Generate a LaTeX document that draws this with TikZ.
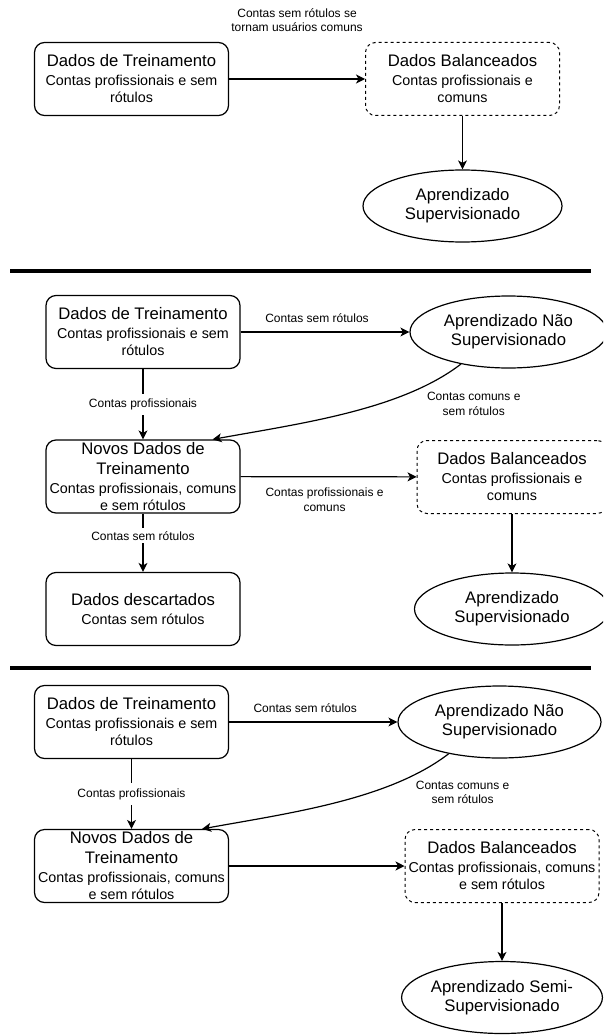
\documentclass[tikz,border=0pt]{standalone}
\usepackage{fontspec}
\setmainfont{Liberation Sans}
\usetikzlibrary{shapes.geometric,arrows.meta}
\newcommand\titl[1]{\fontsize{16.7}{20}\selectfont #1}
\begin{document}
\begin{tikzpicture}[x=1pt,y=-1pt,
  box/.style={draw, rounded corners=10pt, line width=1.2pt, minimum width=194pt, minimum height=73pt,
    inner sep=0pt, align=center, font=\fontsize{14.3}{17}\selectfont},
  dbox/.style={box, line width=1pt, dash pattern=on 3pt off 3pt},
  ell/.style={draw, ellipse, line width=1.2pt, inner sep=0pt, align=center,
    minimum width=198pt, minimum height=72pt, font=\fontsize{16.7}{19}\selectfont},
  elbl/.style={font=\fontsize{12}{14.5}\selectfont, align=center, inner sep=1pt},
  vlbl/.style={elbl, fill=white, inner xsep=2pt, inner ysep=#1},
  vlbl/.default=3pt,
  conn/.style={line width=1.2pt, -{Stealth[length=9pt,width=9pt,inset=2.5pt]}},
  sepline/.style={line width=4pt}
]
\clip (0,0) rectangle (603,1035);
\fill[white] (0,0) rectangle (603,1035);

% ---------- section 1 ----------
\node[box] (a1) at (131.5,79) {\titl{Dados de Treinamento}\\[2pt] Contas profissionais e sem\\ rótulos};
\node[dbox] (d1) at (462.5,79) {\titl{Dados Balanceados}\\[2pt] Contas profissionais e\\ comuns};
\node[ell, minimum width=199pt] (s1) at (462.5,206) {Aprendizado\\ Supervisionado};
\draw[conn] (a1) -- (d1) node[elbl, midway, yshift=59pt] {Contas sem rótulos se\\ tornam usuários comuns};
\draw[conn] (d1) -- (s1);

\draw[sepline] (10,271) -- (591,271);

% ---------- section 2 ----------
\node[box] (b1) at (143,332) {\titl{Dados de Treinamento}\\[2pt] Contas profissionais e sem\\ rótulos};
\node[ell, minimum width=197pt] (u2) at (508.5,332) {Aprendizado Não\\ Supervisionado};
\node[box] (b2) at (143,476.5) {\titl{Novos Dados de}\\[3pt] \titl{Treinamento}\\[2pt] Contas profissionais, comuns\\ e sem rótulos};
\node[dbox, minimum width=190pt] (d2) at (512,477) {\titl{Dados Balanceados}\\[2pt] Contas profissionais e\\ comuns};
\node[box] (b3) at (143,609) {\titl{Dados descartados}\\[2pt] Contas sem rótulos};
\node[ell, minimum width=195pt] (s2) at (512,609) {Aprendizado\\ Supervisionado};

\draw[conn] (b1) -- (u2) node[elbl, midway, xshift=-8pt, yshift=14pt] {Contas sem rótulos};
\draw[conn] (b1) -- (b2) node[vlbl=5pt, midway] {Contas profissionais};
\draw[conn] (u2.214) .. controls +(-60,46) and +(88,-16) .. ([xshift=-28pt]b2.north east)
  node[elbl, pos=0.1, xshift=32pt, yshift=-27pt] {Contas comuns e\\ sem rótulos};
\draw[conn] (b2) -- (d2) node[elbl, midway, xshift=-4pt, yshift=-23pt] {Contas profissionais e\\ comuns};
\draw[conn] (b2) -- (b3) node[vlbl, pos=0.38] {Contas sem rótulos};
\draw[conn] (d2) -- (s2);

\draw[sepline] (10,668) -- (591,668);

% ---------- section 3 ----------
\node[box] (c1) at (131.5,722) {\titl{Dados de Treinamento}\\[2pt] Contas profissionais e sem\\ rótulos};
\node[ell, minimum width=203pt] (u3) at (499.5,722) {Aprendizado Não\\ Supervisionado};
\node[box] (c2) at (131.5,866) {\titl{Novos Dados de}\\[3pt] \titl{Treinamento}\\[2pt] Contas profissionais, comuns\\ e sem rótulos};
\node[dbox] (d3) at (502,866) {\titl{Dados Balanceados}\\[2pt] Contas profissionais, comuns\\ e sem rótulos};
\node[ell, minimum width=199pt] (s3) at (502,997.5) {Aprendizado Semi-\\ Supervisionado};

\draw[conn] (c1) -- (u3) node[elbl, midway, xshift=-8pt, yshift=14pt] {Contas sem rótulos};
\draw[conn] (c1) -- (c2) node[vlbl=5pt, midway] {Contas profissionais};
\draw[conn] (u3.212) .. controls +(-60,46) and +(88,-16) .. ([xshift=-27pt]c2.north east)
  node[elbl, pos=0.1, xshift=33pt, yshift=-26pt] {Contas comuns e\\ sem rótulos};
\draw[conn] (c2) -- (d3);
\draw[conn] (d3) -- (s3);
\end{tikzpicture}
\end{document}
